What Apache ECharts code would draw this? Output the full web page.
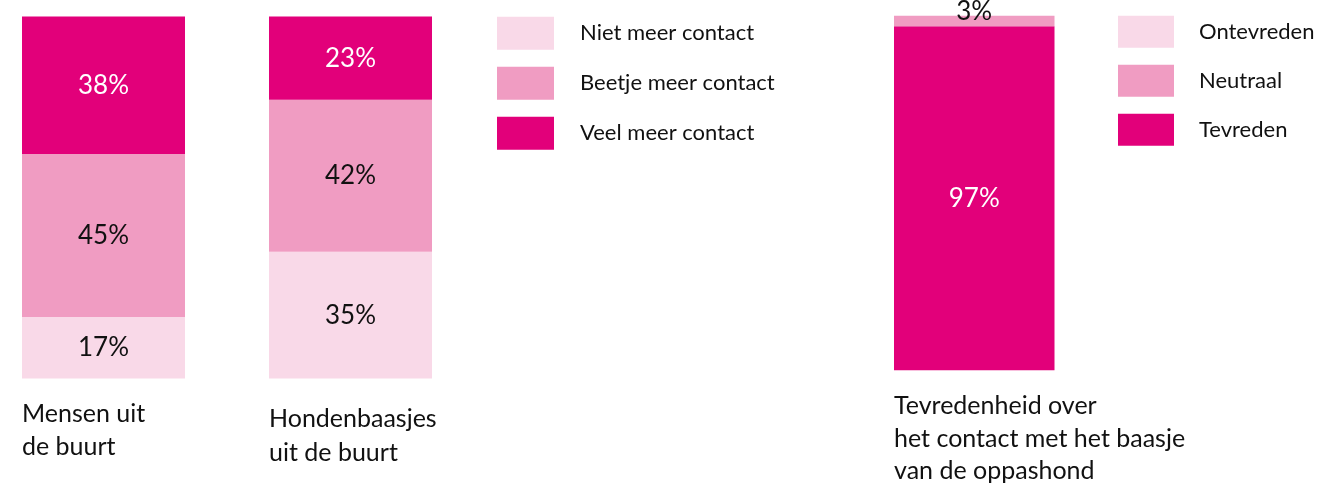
<!DOCTYPE html>
<html>
<head>
<meta charset="utf-8">
<script src="https://cdn.jsdelivr.net/npm/echarts@6/dist/echarts.min.js"></script>
<style>
html,body{margin:0;padding:0;background:#fff;}
#chart{width:1319px;height:488px;}
</style>
</head>
<body>
<div id="chart"></div>
<script>
// Data
const contactCategories = ['Mensen uit\nde buurt', 'Hondenbaasjes\nuit de buurt'];
const contactSeriesNames = ['Niet meer contact', 'Beetje meer contact', 'Veel meer contact'];
const nietMeerContact = [17, 35];
const beetjeMeerContact = [45, 42];
const veelMeerContact = [38, 23];

const satisfactionCategory = ['Tevredenheid over\nhet contact met het baasje\nvan de oppashond'];
const satisfactionSeriesNames = ['Ontevreden', 'Neutraal', 'Tevreden'];
const ontevreden = [0];
const neutraal = [3];
const tevreden = [97];

const COLORS = ['#f9d9e8', '#f09cc2', '#e2007a'];
const LABEL_COLORS = ['#111', '#111', '#fff'];
const FONT = 'Lato';

const chart = echarts.init(document.getElementById('chart'));

const grids = [
  {left: 22, top: 16.5, width: 163, height: 362},
  {left: 269, top: 16.5, width: 163, height: 362},
  {left: 894, top: 15.7, width: 160.5, height: 354.6}
];
const titlePos = [
  {left: 22, top: 397, lineHeight: 33},
  {left: 269, top: 402, lineHeight: 34},
  {left: 894, top: 390, lineHeight: 32.5}
];

const xAxes = [], yAxes = [], series = [], titles = [];
// stackOrder: indices of series (colour index) from bottom to top
const panels = [
  {cat: contactCategories[0], names: contactSeriesNames, vals: [nietMeerContact[0], beetjeMeerContact[0], veelMeerContact[0]], order: [0, 1, 2]},
  {cat: contactCategories[1], names: contactSeriesNames, vals: [nietMeerContact[1], beetjeMeerContact[1], veelMeerContact[1]], order: [0, 1, 2]},
  {cat: satisfactionCategory[0], names: satisfactionSeriesNames, vals: [ontevreden[0], neutraal[0], tevreden[0]], order: [2, 1, 0]}
];

panels.forEach((p, gi) => {
  xAxes.push({type: 'category', gridIndex: gi, data: [p.cat], show: false});
  yAxes.push({type: 'value', gridIndex: gi, min: 0, max: 100, show: false});
  titles.push({
    text: p.cat, left: titlePos[gi].left, top: titlePos[gi].top, padding: 0,
    textStyle: {fontFamily: FONT, fontSize: 25, fontWeight: 'normal', color: '#111', lineHeight: titlePos[gi].lineHeight}
  });
  p.order.forEach((si) => {
    const n = p.names[si];
    const small = p.vals[si] > 0 && p.vals[si] < 6;
    series.push({
      type: 'bar', name: n, xAxisIndex: gi, yAxisIndex: gi, stack: 'g' + gi,
      barWidth: '100%', data: [p.vals[si]],
      itemStyle: {color: COLORS[si]},
      emphasis: {disabled: true},
      label: {
        show: true, position: 'inside',
        offset: small ? [0, -9] : [0, 0],
        formatter: (d) => d.value > 0 ? d.value + '%' : '',
        fontFamily: FONT, fontSize: 26, color: small ? '#111' : LABEL_COLORS[si]
      }
    });
  });
});

chart.setOption({
  animation: false,
  backgroundColor: '#fff',
  title: titles,
  grid: grids,
  xAxis: xAxes,
  yAxis: yAxes,
  legend: [
    {
      data: contactSeriesNames, orient: 'vertical', left: 497, top: 16.7, padding: 0,
      itemWidth: 57, itemHeight: 33, itemGap: 17, icon: 'rect', selectedMode: false,
      textStyle: {fontFamily: FONT, fontSize: 22, color: '#111', padding: [0, 0, 0, 21]}
    },
    {
      data: satisfactionSeriesNames, orient: 'vertical', left: 1118, top: 15.7, padding: 0,
      itemWidth: 56, itemHeight: 32, itemGap: 17, icon: 'rect', selectedMode: false,
      textStyle: {fontFamily: FONT, fontSize: 22, color: '#111', padding: [0, 0, 0, 20]}
    }
  ],
  series: series
});
</script>
</body>
</html>
